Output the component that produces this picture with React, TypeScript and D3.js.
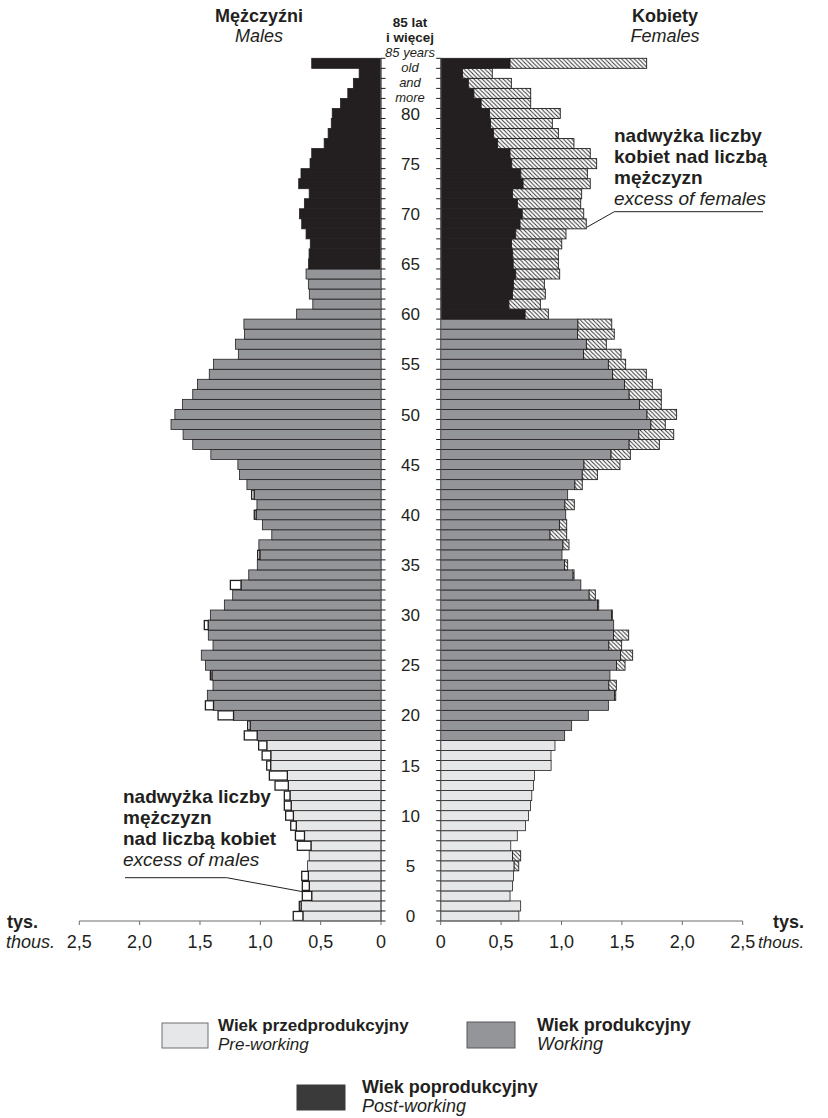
import React from "react";
import * as d3 from "d3";

const ages: number[] = Array.from({ length: 86 }, (_, i) => i);

const males: number[] = [
  0.727, 0.677, 0.652, 0.652, 0.657, 0.608, 0.595, 0.693, 0.709, 0.748,
  0.790, 0.801, 0.801, 0.878, 0.925, 0.947, 0.985, 1.014, 1.133, 1.105,
  1.350, 1.455, 1.439, 1.392, 1.414, 1.455, 1.489, 1.392, 1.431, 1.464,
  1.414, 1.298, 1.229, 1.248, 1.096, 1.025, 1.022, 1.012, 0.905, 0.983,
  1.050, 1.028, 1.072, 1.111, 1.172, 1.186, 1.410, 1.560, 1.640, 1.740,
  1.708, 1.645, 1.560, 1.521, 1.423, 1.388, 1.182, 1.206, 1.132, 1.136,
  0.699, 0.565, 0.594, 0.602, 0.621, 0.600, 0.596, 0.586, 0.621, 0.657,
  0.675, 0.635, 0.595, 0.682, 0.663, 0.588, 0.574, 0.471, 0.438, 0.412,
  0.404, 0.335, 0.275, 0.229, 0.181, 0.574,
];

const females: number[] = [
  0.647, 0.662, 0.574, 0.594, 0.602, 0.646, 0.662, 0.580, 0.634, 0.702,
  0.726, 0.744, 0.754, 0.768, 0.776, 0.914, 0.913, 0.946, 1.026, 1.084,
  1.222, 1.388, 1.449, 1.454, 1.401, 1.526, 1.589, 1.498, 1.556, 1.432,
  1.421, 1.308, 1.280, 1.160, 1.104, 1.051, 1.004, 1.062, 1.043, 1.043,
  1.035, 1.106, 1.051, 1.172, 1.297, 1.484, 1.570, 1.810, 1.929, 1.859,
  1.953, 1.826, 1.826, 1.752, 1.702, 1.531, 1.493, 1.371, 1.437, 1.416,
  0.891, 0.825, 0.866, 0.858, 0.985, 0.974, 0.974, 1.002, 1.037, 1.205,
  1.184, 1.159, 1.167, 1.238, 1.214, 1.291, 1.238, 1.103, 0.974, 0.924,
  0.990, 0.745, 0.745, 0.585, 0.427, 1.705,
];

const ageTickValues: number[] = [0, 5, 10, 15, 20, 25, 30, 35, 40, 45, 50, 55, 60, 65, 70, 75, 80];
const xTickValues: number[] = [0, 0.5, 1.0, 1.5, 2.0, 2.5];
const xTickLabels: string[] = ["0", "0,5", "1,0", "1,5", "2,0", "2,5"];

// working-age thresholds
const maleWorkEnd = 65;
const femaleWorkEnd = 60;
const preWorkEnd = 18;

const colors: Record<string, string> = {
  pre: "#e6e7e8",
  work: "#939598",
  post: "#231f20",
};

const FONT = "'Liberation Sans', Arial, Helvetica, sans-serif";
const DARK = "#231f20";

function group(age: number, workEnd: number): string {
  if (age < preWorkEnd) return "pre";
  if (age < workEnd) return "work";
  return "post";
}

export default function App() {
  const W = 828;
  const H = 1118;
  const xL = d3.scaleLinear().domain([0, 2.5]).range([381, 79.3]);
  const xR = d3.scaleLinear().domain([0, 2.5]).range([440.7, 742.7]);
  const y = d3.scaleBand<number>().domain(ages).range([921, 58.3]).padding(0);
  const bw = y.bandwidth();
  const yBottom = 921;

  const boundaries = d3.range(87).map((i) => yBottom - i * bw);

  return (
    <svg
      width={W}
      height={H}
      style={{ position: "absolute", left: 0, top: 0, background: "#fff" }}
      fontFamily={FONT}
    >
      <defs>
        <pattern id="hatch" patternUnits="userSpaceOnUse" width="4.2" height="4.2">
          <rect width="4.2" height="4.2" fill="#fff" />
          <path d="M-1,-1 L5.2,5.2 M-1,3.2 L1,5.2 M3.2,-1 L5.2,1" stroke="#333" strokeWidth="1" />
        </pattern>
      </defs>

      {/* headers */}
      <text x={259} y={22} textAnchor="middle" fontSize={18} fontWeight="bold" fill={DARK}>Mężczyźni</text>
      <text x={259} y={42} textAnchor="middle" fontSize={18} fontStyle="italic" fill={DARK}>Males</text>
      <text x={665} y={22} textAnchor="middle" fontSize={18} fontWeight="bold" fill={DARK}>Kobiety</text>
      <text x={665} y={42} textAnchor="middle" fontSize={18} fontStyle="italic" fill={DARK}>Females</text>

      {/* center top labels */}
      <g textAnchor="middle" fill={DARK}>
        <text x={410} y={27} fontSize={13.5} fontWeight="bold">85 lat</text>
        <text x={410} y={42} fontSize={13.5} fontWeight="bold">i więcej</text>
        <text x={410} y={57} fontSize={13} fontStyle="italic">85 years</text>
        <text x={410} y={72} fontSize={13} fontStyle="italic">old</text>
        <text x={410} y={87} fontSize={13} fontStyle="italic">and</text>
        <text x={410} y={102} fontSize={13} fontStyle="italic">more</text>
      </g>

      {/* bars */}
      {ages.map((a, i) => {
        const m = males[i];
        const f = females[i];
        const c = Math.min(m, f);
        const top = y(a) as number;
        return (
          <g key={a}>
            <rect
              x={xL(c)}
              y={top}
              width={xL(0) - xL(c)}
              height={bw}
              fill={colors[group(a, maleWorkEnd)]}
              stroke={DARK}
              strokeWidth={0.8}
            />
            {m > f && (
              <rect
                x={xL(m)}
                y={top + 0.5}
                width={xL(c) - xL(m)}
                height={bw - 1}
                fill="#fff"
                stroke={DARK}
                strokeWidth={1.3}
              />
            )}
            <rect
              x={xR(0)}
              y={top}
              width={xR(c) - xR(0)}
              height={bw}
              fill={colors[group(a, femaleWorkEnd)]}
              stroke={DARK}
              strokeWidth={0.8}
            />
            {f > m && (
              <rect
                x={xR(c)}
                y={top}
                width={xR(f) - xR(c)}
                height={bw}
                fill="url(#hatch)"
                stroke={DARK}
                strokeWidth={0.9}
              />
            )}
          </g>
        );
      })}

      {/* center axes */}
      <line x1={xL(0)} x2={xL(0)} y1={y(85) as number} y2={yBottom} stroke="#6d6e71" strokeWidth={1.2} />
      <line x1={xR(0)} x2={xR(0)} y1={y(85) as number} y2={yBottom} stroke="#6d6e71" strokeWidth={1.2} />
      {boundaries.map((b, i) => (
        <g key={"t" + i}>
          <line x1={xL(0)} x2={xL(0) + 4.5} y1={b} y2={b} stroke={DARK} strokeWidth={1} />
          <line x1={xR(0) - 4.5} x2={xR(0)} y1={b} y2={b} stroke={DARK} strokeWidth={1} />
        </g>
      ))}

      {/* age labels */}
      {ageTickValues.map((a) => (
        <text
          key={"a" + a}
          x={410.5}
          y={(y(a) as number) + bw / 2}
          dy="0.36em"
          textAnchor="middle"
          fontSize={17}
          fill={DARK}
        >
          {a}
        </text>
      ))}

      {/* bottom axes */}
      <line x1={xL(2.5)} x2={xL(0)} y1={yBottom} y2={yBottom} stroke="#6d6e71" strokeWidth={1.2} />
      <line x1={xR(0)} x2={xR(2.5)} y1={yBottom} y2={yBottom} stroke="#6d6e71" strokeWidth={1.2} />
      {xTickValues.map((v, i) => (
        <g key={"x" + i} fill={DARK}>
          <line x1={xL(v)} x2={xL(v)} y1={yBottom} y2={yBottom + 4} stroke="#6d6e71" strokeWidth={1} />
          <line x1={xR(v)} x2={xR(v)} y1={yBottom} y2={yBottom + 4} stroke="#6d6e71" strokeWidth={1} />
          <text x={xL(v)} y={948} textAnchor="middle" fontSize={18}>{xTickLabels[i]}</text>
          <text x={xR(v)} y={948} textAnchor="middle" fontSize={18}>{xTickLabels[i]}</text>
        </g>
      ))}
      <text x={7} y={928} fontSize={18} fontWeight="bold" fill={DARK}>tys.</text>
      <text x={6} y={948} fontSize={18} fontStyle="italic" fill={DARK}>thous.</text>
      <text x={773} y={928} fontSize={18} fontWeight="bold" fill={DARK}>tys.</text>
      <text x={758} y={948} fontSize={17} fontStyle="italic" fill={DARK}>thous.</text>

      {/* annotation: excess of females */}
      <g fill={DARK} fontSize={19}>
        <text x={614} y={142} fontWeight="bold">nadwyżka liczby</text>
        <text x={614} y={163} fontWeight="bold">kobiet nad liczbą</text>
        <text x={614} y={184} fontWeight="bold">mężczyzn</text>
        <text x={614} y={205} fontStyle="italic">excess of females</text>
      </g>
      <polyline points="763,211.7 614.3,211.7 586.7,227.3" fill="none" stroke={DARK} strokeWidth={1} />

      {/* annotation: excess of males */}
      <g fill={DARK} fontSize={19}>
        <text x={123} y={803} fontWeight="bold">nadwyżka liczby</text>
        <text x={123} y={824} fontWeight="bold">mężczyzn</text>
        <text x={123} y={845} fontWeight="bold">nad liczbą kobiet</text>
        <text x={123} y={866} fontStyle="italic">excess of males</text>
      </g>
      <polyline points="125,877.7 226.7,877.7 302.7,891.7" fill="none" stroke={DARK} strokeWidth={1} />

      {/* legend */}
      <rect x={162} y={1023} width={46} height={25} fill={colors.pre} stroke="#6d6e71" strokeWidth={1} />
      <text x={218} y={1031} fontSize={17} fontWeight="bold" fill={DARK}>Wiek przedprodukcyjny</text>
      <text x={218} y={1050} fontSize={17} fontStyle="italic" fill={DARK}>Pre-working</text>

      <rect x={467} y={1022} width={48} height={26} fill={colors.work} stroke="#58595b" strokeWidth={1} />
      <text x={537} y={1031} fontSize={18} fontWeight="bold" fill={DARK}>Wiek produkcyjny</text>
      <text x={537} y={1050} fontSize={18} fontStyle="italic" fill={DARK}>Working</text>

      <rect x={297} y={1085} width={48} height={25} fill="#3a3a3a" stroke="#3a3a3a" strokeWidth={1} />
      <text x={362} y={1093} fontSize={18} fontWeight="bold" fill={DARK}>Wiek poprodukcyjny</text>
      <text x={362} y={1112} fontSize={18} fontStyle="italic" fill={DARK}>Post-working</text>
    </svg>
  );
}
